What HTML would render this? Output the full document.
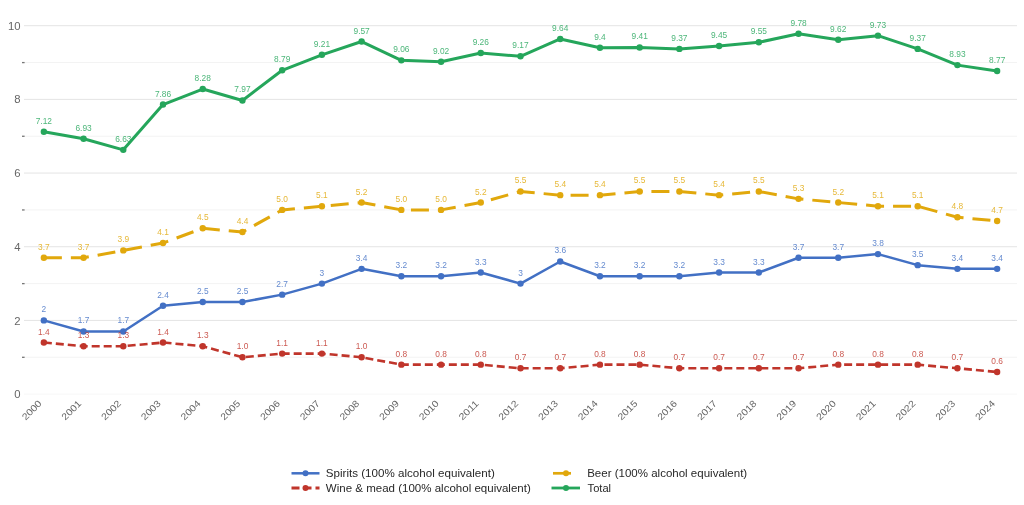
<!DOCTYPE html><html><head><meta charset="utf-8"><style>html,body{margin:0;padding:0;background:#fff;width:1024px;height:505px;overflow:hidden}</style></head><body><div style="will-change:transform"><svg width="1024" height="505" viewBox="0 0 1024 505" style="display:block">
<rect width="1024" height="505" fill="#fff"/>
<line x1="24.0" y1="394.10" x2="1017.0" y2="394.10" stroke="#f7f7f7" stroke-width="1"/>
<line x1="24.0" y1="357.26" x2="1017.0" y2="357.26" stroke="#f3f3f3" stroke-width="1"/>
<line x1="24.0" y1="320.42" x2="1017.0" y2="320.42" stroke="#e4e4e4" stroke-width="1"/>
<line x1="24.0" y1="283.58" x2="1017.0" y2="283.58" stroke="#f3f3f3" stroke-width="1"/>
<line x1="24.0" y1="246.74" x2="1017.0" y2="246.74" stroke="#e4e4e4" stroke-width="1"/>
<line x1="24.0" y1="209.90" x2="1017.0" y2="209.90" stroke="#f3f3f3" stroke-width="1"/>
<line x1="24.0" y1="173.06" x2="1017.0" y2="173.06" stroke="#e4e4e4" stroke-width="1"/>
<line x1="24.0" y1="136.22" x2="1017.0" y2="136.22" stroke="#f3f3f3" stroke-width="1"/>
<line x1="24.0" y1="99.38" x2="1017.0" y2="99.38" stroke="#e4e4e4" stroke-width="1"/>
<line x1="24.0" y1="62.54" x2="1017.0" y2="62.54" stroke="#f3f3f3" stroke-width="1"/>
<line x1="24.0" y1="25.70" x2="1017.0" y2="25.70" stroke="#e4e4e4" stroke-width="1"/>
<text x="20.5" y="398.20" text-anchor="end" font-family='"Liberation Sans", sans-serif' font-size="11.3" fill="#666">0</text>
<rect x="22" y="356.66" width="2.6" height="1.3" fill="#777"/>
<text x="20.5" y="324.52" text-anchor="end" font-family='"Liberation Sans", sans-serif' font-size="11.3" fill="#666">2</text>
<rect x="22" y="282.98" width="2.6" height="1.3" fill="#777"/>
<text x="20.5" y="250.84" text-anchor="end" font-family='"Liberation Sans", sans-serif' font-size="11.3" fill="#666">4</text>
<rect x="22" y="209.30" width="2.6" height="1.3" fill="#777"/>
<text x="20.5" y="177.16" text-anchor="end" font-family='"Liberation Sans", sans-serif' font-size="11.3" fill="#666">6</text>
<rect x="22" y="135.62" width="2.6" height="1.3" fill="#777"/>
<text x="20.5" y="103.48" text-anchor="end" font-family='"Liberation Sans", sans-serif' font-size="11.3" fill="#666">8</text>
<rect x="22" y="61.94" width="2.6" height="1.3" fill="#777"/>
<text x="20.5" y="29.80" text-anchor="end" font-family='"Liberation Sans", sans-serif' font-size="11.3" fill="#666">10</text>
<text transform="translate(42.26,404.10) rotate(-45)" text-anchor="end" font-family='"Liberation Sans", sans-serif' font-size="9.3" fill="#666" textLength="23.5" lengthAdjust="spacingAndGlyphs">2000</text>
<text transform="translate(81.98,404.10) rotate(-45)" text-anchor="end" font-family='"Liberation Sans", sans-serif' font-size="9.3" fill="#666" textLength="23.5" lengthAdjust="spacingAndGlyphs">2001</text>
<text transform="translate(121.70,404.10) rotate(-45)" text-anchor="end" font-family='"Liberation Sans", sans-serif' font-size="9.3" fill="#666" textLength="23.5" lengthAdjust="spacingAndGlyphs">2002</text>
<text transform="translate(161.42,404.10) rotate(-45)" text-anchor="end" font-family='"Liberation Sans", sans-serif' font-size="9.3" fill="#666" textLength="23.5" lengthAdjust="spacingAndGlyphs">2003</text>
<text transform="translate(201.14,404.10) rotate(-45)" text-anchor="end" font-family='"Liberation Sans", sans-serif' font-size="9.3" fill="#666" textLength="23.5" lengthAdjust="spacingAndGlyphs">2004</text>
<text transform="translate(240.86,404.10) rotate(-45)" text-anchor="end" font-family='"Liberation Sans", sans-serif' font-size="9.3" fill="#666" textLength="23.5" lengthAdjust="spacingAndGlyphs">2005</text>
<text transform="translate(280.58,404.10) rotate(-45)" text-anchor="end" font-family='"Liberation Sans", sans-serif' font-size="9.3" fill="#666" textLength="23.5" lengthAdjust="spacingAndGlyphs">2006</text>
<text transform="translate(320.30,404.10) rotate(-45)" text-anchor="end" font-family='"Liberation Sans", sans-serif' font-size="9.3" fill="#666" textLength="23.5" lengthAdjust="spacingAndGlyphs">2007</text>
<text transform="translate(360.02,404.10) rotate(-45)" text-anchor="end" font-family='"Liberation Sans", sans-serif' font-size="9.3" fill="#666" textLength="23.5" lengthAdjust="spacingAndGlyphs">2008</text>
<text transform="translate(399.74,404.10) rotate(-45)" text-anchor="end" font-family='"Liberation Sans", sans-serif' font-size="9.3" fill="#666" textLength="23.5" lengthAdjust="spacingAndGlyphs">2009</text>
<text transform="translate(439.46,404.10) rotate(-45)" text-anchor="end" font-family='"Liberation Sans", sans-serif' font-size="9.3" fill="#666" textLength="23.5" lengthAdjust="spacingAndGlyphs">2010</text>
<text transform="translate(479.18,404.10) rotate(-45)" text-anchor="end" font-family='"Liberation Sans", sans-serif' font-size="9.3" fill="#666" textLength="23.5" lengthAdjust="spacingAndGlyphs">2011</text>
<text transform="translate(518.90,404.10) rotate(-45)" text-anchor="end" font-family='"Liberation Sans", sans-serif' font-size="9.3" fill="#666" textLength="23.5" lengthAdjust="spacingAndGlyphs">2012</text>
<text transform="translate(558.62,404.10) rotate(-45)" text-anchor="end" font-family='"Liberation Sans", sans-serif' font-size="9.3" fill="#666" textLength="23.5" lengthAdjust="spacingAndGlyphs">2013</text>
<text transform="translate(598.34,404.10) rotate(-45)" text-anchor="end" font-family='"Liberation Sans", sans-serif' font-size="9.3" fill="#666" textLength="23.5" lengthAdjust="spacingAndGlyphs">2014</text>
<text transform="translate(638.06,404.10) rotate(-45)" text-anchor="end" font-family='"Liberation Sans", sans-serif' font-size="9.3" fill="#666" textLength="23.5" lengthAdjust="spacingAndGlyphs">2015</text>
<text transform="translate(677.78,404.10) rotate(-45)" text-anchor="end" font-family='"Liberation Sans", sans-serif' font-size="9.3" fill="#666" textLength="23.5" lengthAdjust="spacingAndGlyphs">2016</text>
<text transform="translate(717.50,404.10) rotate(-45)" text-anchor="end" font-family='"Liberation Sans", sans-serif' font-size="9.3" fill="#666" textLength="23.5" lengthAdjust="spacingAndGlyphs">2017</text>
<text transform="translate(757.22,404.10) rotate(-45)" text-anchor="end" font-family='"Liberation Sans", sans-serif' font-size="9.3" fill="#666" textLength="23.5" lengthAdjust="spacingAndGlyphs">2018</text>
<text transform="translate(796.94,404.10) rotate(-45)" text-anchor="end" font-family='"Liberation Sans", sans-serif' font-size="9.3" fill="#666" textLength="23.5" lengthAdjust="spacingAndGlyphs">2019</text>
<text transform="translate(836.66,404.10) rotate(-45)" text-anchor="end" font-family='"Liberation Sans", sans-serif' font-size="9.3" fill="#666" textLength="23.5" lengthAdjust="spacingAndGlyphs">2020</text>
<text transform="translate(876.38,404.10) rotate(-45)" text-anchor="end" font-family='"Liberation Sans", sans-serif' font-size="9.3" fill="#666" textLength="23.5" lengthAdjust="spacingAndGlyphs">2021</text>
<text transform="translate(916.10,404.10) rotate(-45)" text-anchor="end" font-family='"Liberation Sans", sans-serif' font-size="9.3" fill="#666" textLength="23.5" lengthAdjust="spacingAndGlyphs">2022</text>
<text transform="translate(955.82,404.10) rotate(-45)" text-anchor="end" font-family='"Liberation Sans", sans-serif' font-size="9.3" fill="#666" textLength="23.5" lengthAdjust="spacingAndGlyphs">2023</text>
<text transform="translate(995.54,404.10) rotate(-45)" text-anchor="end" font-family='"Liberation Sans", sans-serif' font-size="9.3" fill="#666" textLength="23.5" lengthAdjust="spacingAndGlyphs">2024</text>
<polyline points="43.86,342.52 83.58,346.21 123.30,346.21 163.02,342.52 202.74,346.21 242.46,357.26 282.18,353.58 321.90,353.58 361.62,357.26 401.34,364.63 441.06,364.63 480.78,364.63 520.50,368.31 560.22,368.31 599.94,364.63 639.66,364.63 679.38,368.31 719.10,368.31 758.82,368.31 798.54,368.31 838.26,364.63 877.98,364.63 917.70,364.63 957.42,368.31 997.14,372.00" fill="none" stroke="#c0352b" stroke-width="2.6" stroke-linejoin="round" stroke-dasharray="8 4"/>
<circle cx="43.86" cy="342.52" r="3.2" fill="#c0352b"/>
<circle cx="83.58" cy="346.21" r="3.2" fill="#c0352b"/>
<circle cx="123.30" cy="346.21" r="3.2" fill="#c0352b"/>
<circle cx="163.02" cy="342.52" r="3.2" fill="#c0352b"/>
<circle cx="202.74" cy="346.21" r="3.2" fill="#c0352b"/>
<circle cx="242.46" cy="357.26" r="3.2" fill="#c0352b"/>
<circle cx="282.18" cy="353.58" r="3.2" fill="#c0352b"/>
<circle cx="321.90" cy="353.58" r="3.2" fill="#c0352b"/>
<circle cx="361.62" cy="357.26" r="3.2" fill="#c0352b"/>
<circle cx="401.34" cy="364.63" r="3.2" fill="#c0352b"/>
<circle cx="441.06" cy="364.63" r="3.2" fill="#c0352b"/>
<circle cx="480.78" cy="364.63" r="3.2" fill="#c0352b"/>
<circle cx="520.50" cy="368.31" r="3.2" fill="#c0352b"/>
<circle cx="560.22" cy="368.31" r="3.2" fill="#c0352b"/>
<circle cx="599.94" cy="364.63" r="3.2" fill="#c0352b"/>
<circle cx="639.66" cy="364.63" r="3.2" fill="#c0352b"/>
<circle cx="679.38" cy="368.31" r="3.2" fill="#c0352b"/>
<circle cx="719.10" cy="368.31" r="3.2" fill="#c0352b"/>
<circle cx="758.82" cy="368.31" r="3.2" fill="#c0352b"/>
<circle cx="798.54" cy="368.31" r="3.2" fill="#c0352b"/>
<circle cx="838.26" cy="364.63" r="3.2" fill="#c0352b"/>
<circle cx="877.98" cy="364.63" r="3.2" fill="#c0352b"/>
<circle cx="917.70" cy="364.63" r="3.2" fill="#c0352b"/>
<circle cx="957.42" cy="368.31" r="3.2" fill="#c0352b"/>
<circle cx="997.14" cy="372.00" r="3.2" fill="#c0352b"/>
<polyline points="43.86,320.42 83.58,331.47 123.30,331.47 163.02,305.68 202.74,302.00 242.46,302.00 282.18,294.63 321.90,283.58 361.62,268.84 401.34,276.21 441.06,276.21 480.78,272.53 520.50,283.58 560.22,261.48 599.94,276.21 639.66,276.21 679.38,276.21 719.10,272.53 758.82,272.53 798.54,257.79 838.26,257.79 877.98,254.11 917.70,265.16 957.42,268.84 997.14,268.84" fill="none" stroke="#4270c4" stroke-width="2.5" stroke-linejoin="round"/>
<circle cx="43.86" cy="320.42" r="3.2" fill="#4270c4"/>
<circle cx="83.58" cy="331.47" r="3.2" fill="#4270c4"/>
<circle cx="123.30" cy="331.47" r="3.2" fill="#4270c4"/>
<circle cx="163.02" cy="305.68" r="3.2" fill="#4270c4"/>
<circle cx="202.74" cy="302.00" r="3.2" fill="#4270c4"/>
<circle cx="242.46" cy="302.00" r="3.2" fill="#4270c4"/>
<circle cx="282.18" cy="294.63" r="3.2" fill="#4270c4"/>
<circle cx="321.90" cy="283.58" r="3.2" fill="#4270c4"/>
<circle cx="361.62" cy="268.84" r="3.2" fill="#4270c4"/>
<circle cx="401.34" cy="276.21" r="3.2" fill="#4270c4"/>
<circle cx="441.06" cy="276.21" r="3.2" fill="#4270c4"/>
<circle cx="480.78" cy="272.53" r="3.2" fill="#4270c4"/>
<circle cx="520.50" cy="283.58" r="3.2" fill="#4270c4"/>
<circle cx="560.22" cy="261.48" r="3.2" fill="#4270c4"/>
<circle cx="599.94" cy="276.21" r="3.2" fill="#4270c4"/>
<circle cx="639.66" cy="276.21" r="3.2" fill="#4270c4"/>
<circle cx="679.38" cy="276.21" r="3.2" fill="#4270c4"/>
<circle cx="719.10" cy="272.53" r="3.2" fill="#4270c4"/>
<circle cx="758.82" cy="272.53" r="3.2" fill="#4270c4"/>
<circle cx="798.54" cy="257.79" r="3.2" fill="#4270c4"/>
<circle cx="838.26" cy="257.79" r="3.2" fill="#4270c4"/>
<circle cx="877.98" cy="254.11" r="3.2" fill="#4270c4"/>
<circle cx="917.70" cy="265.16" r="3.2" fill="#4270c4"/>
<circle cx="957.42" cy="268.84" r="3.2" fill="#4270c4"/>
<circle cx="997.14" cy="268.84" r="3.2" fill="#4270c4"/>
<polyline points="43.86,257.79 83.58,257.79 123.30,250.42 163.02,243.06 202.74,228.32 242.46,232.00 282.18,209.90 321.90,206.22 361.62,202.53 401.34,209.90 441.06,209.90 480.78,202.53 520.50,191.48 560.22,195.16 599.94,195.16 639.66,191.48 679.38,191.48 719.10,195.16 758.82,191.48 798.54,198.85 838.26,202.53 877.98,206.22 917.70,206.22 957.42,217.27 997.14,220.95" fill="none" stroke="#e1a80c" stroke-width="3" stroke-linejoin="round" stroke-dasharray="18 9"/>
<circle cx="43.86" cy="257.79" r="3.2" fill="#e1a80c"/>
<circle cx="83.58" cy="257.79" r="3.2" fill="#e1a80c"/>
<circle cx="123.30" cy="250.42" r="3.2" fill="#e1a80c"/>
<circle cx="163.02" cy="243.06" r="3.2" fill="#e1a80c"/>
<circle cx="202.74" cy="228.32" r="3.2" fill="#e1a80c"/>
<circle cx="242.46" cy="232.00" r="3.2" fill="#e1a80c"/>
<circle cx="282.18" cy="209.90" r="3.2" fill="#e1a80c"/>
<circle cx="321.90" cy="206.22" r="3.2" fill="#e1a80c"/>
<circle cx="361.62" cy="202.53" r="3.2" fill="#e1a80c"/>
<circle cx="401.34" cy="209.90" r="3.2" fill="#e1a80c"/>
<circle cx="441.06" cy="209.90" r="3.2" fill="#e1a80c"/>
<circle cx="480.78" cy="202.53" r="3.2" fill="#e1a80c"/>
<circle cx="520.50" cy="191.48" r="3.2" fill="#e1a80c"/>
<circle cx="560.22" cy="195.16" r="3.2" fill="#e1a80c"/>
<circle cx="599.94" cy="195.16" r="3.2" fill="#e1a80c"/>
<circle cx="639.66" cy="191.48" r="3.2" fill="#e1a80c"/>
<circle cx="679.38" cy="191.48" r="3.2" fill="#e1a80c"/>
<circle cx="719.10" cy="195.16" r="3.2" fill="#e1a80c"/>
<circle cx="758.82" cy="191.48" r="3.2" fill="#e1a80c"/>
<circle cx="798.54" cy="198.85" r="3.2" fill="#e1a80c"/>
<circle cx="838.26" cy="202.53" r="3.2" fill="#e1a80c"/>
<circle cx="877.98" cy="206.22" r="3.2" fill="#e1a80c"/>
<circle cx="917.70" cy="206.22" r="3.2" fill="#e1a80c"/>
<circle cx="957.42" cy="217.27" r="3.2" fill="#e1a80c"/>
<circle cx="997.14" cy="220.95" r="3.2" fill="#e1a80c"/>
<polyline points="43.86,131.80 83.58,138.80 123.30,149.85 163.02,104.54 202.74,89.06 242.46,100.49 282.18,70.28 321.90,54.80 361.62,41.54 401.34,60.33 441.06,61.80 480.78,52.96 520.50,56.28 560.22,38.96 599.94,47.80 639.66,47.44 679.38,48.91 719.10,45.96 758.82,42.28 798.54,33.80 838.26,39.70 877.98,35.65 917.70,48.91 957.42,65.12 997.14,71.01" fill="none" stroke="#25a65b" stroke-width="3" stroke-linejoin="round"/>
<circle cx="43.86" cy="131.80" r="3.2" fill="#25a65b"/>
<circle cx="83.58" cy="138.80" r="3.2" fill="#25a65b"/>
<circle cx="123.30" cy="149.85" r="3.2" fill="#25a65b"/>
<circle cx="163.02" cy="104.54" r="3.2" fill="#25a65b"/>
<circle cx="202.74" cy="89.06" r="3.2" fill="#25a65b"/>
<circle cx="242.46" cy="100.49" r="3.2" fill="#25a65b"/>
<circle cx="282.18" cy="70.28" r="3.2" fill="#25a65b"/>
<circle cx="321.90" cy="54.80" r="3.2" fill="#25a65b"/>
<circle cx="361.62" cy="41.54" r="3.2" fill="#25a65b"/>
<circle cx="401.34" cy="60.33" r="3.2" fill="#25a65b"/>
<circle cx="441.06" cy="61.80" r="3.2" fill="#25a65b"/>
<circle cx="480.78" cy="52.96" r="3.2" fill="#25a65b"/>
<circle cx="520.50" cy="56.28" r="3.2" fill="#25a65b"/>
<circle cx="560.22" cy="38.96" r="3.2" fill="#25a65b"/>
<circle cx="599.94" cy="47.80" r="3.2" fill="#25a65b"/>
<circle cx="639.66" cy="47.44" r="3.2" fill="#25a65b"/>
<circle cx="679.38" cy="48.91" r="3.2" fill="#25a65b"/>
<circle cx="719.10" cy="45.96" r="3.2" fill="#25a65b"/>
<circle cx="758.82" cy="42.28" r="3.2" fill="#25a65b"/>
<circle cx="798.54" cy="33.80" r="3.2" fill="#25a65b"/>
<circle cx="838.26" cy="39.70" r="3.2" fill="#25a65b"/>
<circle cx="877.98" cy="35.65" r="3.2" fill="#25a65b"/>
<circle cx="917.70" cy="48.91" r="3.2" fill="#25a65b"/>
<circle cx="957.42" cy="65.12" r="3.2" fill="#25a65b"/>
<circle cx="997.14" cy="71.01" r="3.2" fill="#25a65b"/>
<text transform="translate(43.86,334.52) scale(0.93,1)" text-anchor="middle" font-family='"Liberation Sans", sans-serif' font-size="9" fill="#c0352b" fill-opacity="0.82">1.4</text>
<text transform="translate(83.58,338.21) scale(0.93,1)" text-anchor="middle" font-family='"Liberation Sans", sans-serif' font-size="9" fill="#c0352b" fill-opacity="0.82">1.3</text>
<text transform="translate(123.30,338.21) scale(0.93,1)" text-anchor="middle" font-family='"Liberation Sans", sans-serif' font-size="9" fill="#c0352b" fill-opacity="0.82">1.3</text>
<text transform="translate(163.02,334.52) scale(0.93,1)" text-anchor="middle" font-family='"Liberation Sans", sans-serif' font-size="9" fill="#c0352b" fill-opacity="0.82">1.4</text>
<text transform="translate(202.74,338.21) scale(0.93,1)" text-anchor="middle" font-family='"Liberation Sans", sans-serif' font-size="9" fill="#c0352b" fill-opacity="0.82">1.3</text>
<text transform="translate(242.46,349.26) scale(0.93,1)" text-anchor="middle" font-family='"Liberation Sans", sans-serif' font-size="9" fill="#c0352b" fill-opacity="0.82">1.0</text>
<text transform="translate(282.18,345.58) scale(0.93,1)" text-anchor="middle" font-family='"Liberation Sans", sans-serif' font-size="9" fill="#c0352b" fill-opacity="0.82">1.1</text>
<text transform="translate(321.90,345.58) scale(0.93,1)" text-anchor="middle" font-family='"Liberation Sans", sans-serif' font-size="9" fill="#c0352b" fill-opacity="0.82">1.1</text>
<text transform="translate(361.62,349.26) scale(0.93,1)" text-anchor="middle" font-family='"Liberation Sans", sans-serif' font-size="9" fill="#c0352b" fill-opacity="0.82">1.0</text>
<text transform="translate(401.34,356.63) scale(0.93,1)" text-anchor="middle" font-family='"Liberation Sans", sans-serif' font-size="9" fill="#c0352b" fill-opacity="0.82">0.8</text>
<text transform="translate(441.06,356.63) scale(0.93,1)" text-anchor="middle" font-family='"Liberation Sans", sans-serif' font-size="9" fill="#c0352b" fill-opacity="0.82">0.8</text>
<text transform="translate(480.78,356.63) scale(0.93,1)" text-anchor="middle" font-family='"Liberation Sans", sans-serif' font-size="9" fill="#c0352b" fill-opacity="0.82">0.8</text>
<text transform="translate(520.50,360.31) scale(0.93,1)" text-anchor="middle" font-family='"Liberation Sans", sans-serif' font-size="9" fill="#c0352b" fill-opacity="0.82">0.7</text>
<text transform="translate(560.22,360.31) scale(0.93,1)" text-anchor="middle" font-family='"Liberation Sans", sans-serif' font-size="9" fill="#c0352b" fill-opacity="0.82">0.7</text>
<text transform="translate(599.94,356.63) scale(0.93,1)" text-anchor="middle" font-family='"Liberation Sans", sans-serif' font-size="9" fill="#c0352b" fill-opacity="0.82">0.8</text>
<text transform="translate(639.66,356.63) scale(0.93,1)" text-anchor="middle" font-family='"Liberation Sans", sans-serif' font-size="9" fill="#c0352b" fill-opacity="0.82">0.8</text>
<text transform="translate(679.38,360.31) scale(0.93,1)" text-anchor="middle" font-family='"Liberation Sans", sans-serif' font-size="9" fill="#c0352b" fill-opacity="0.82">0.7</text>
<text transform="translate(719.10,360.31) scale(0.93,1)" text-anchor="middle" font-family='"Liberation Sans", sans-serif' font-size="9" fill="#c0352b" fill-opacity="0.82">0.7</text>
<text transform="translate(758.82,360.31) scale(0.93,1)" text-anchor="middle" font-family='"Liberation Sans", sans-serif' font-size="9" fill="#c0352b" fill-opacity="0.82">0.7</text>
<text transform="translate(798.54,360.31) scale(0.93,1)" text-anchor="middle" font-family='"Liberation Sans", sans-serif' font-size="9" fill="#c0352b" fill-opacity="0.82">0.7</text>
<text transform="translate(838.26,356.63) scale(0.93,1)" text-anchor="middle" font-family='"Liberation Sans", sans-serif' font-size="9" fill="#c0352b" fill-opacity="0.82">0.8</text>
<text transform="translate(877.98,356.63) scale(0.93,1)" text-anchor="middle" font-family='"Liberation Sans", sans-serif' font-size="9" fill="#c0352b" fill-opacity="0.82">0.8</text>
<text transform="translate(917.70,356.63) scale(0.93,1)" text-anchor="middle" font-family='"Liberation Sans", sans-serif' font-size="9" fill="#c0352b" fill-opacity="0.82">0.8</text>
<text transform="translate(957.42,360.31) scale(0.93,1)" text-anchor="middle" font-family='"Liberation Sans", sans-serif' font-size="9" fill="#c0352b" fill-opacity="0.82">0.7</text>
<text transform="translate(997.14,364.00) scale(0.93,1)" text-anchor="middle" font-family='"Liberation Sans", sans-serif' font-size="9" fill="#c0352b" fill-opacity="0.82">0.6</text>
<text transform="translate(43.86,312.42) scale(0.93,1)" text-anchor="middle" font-family='"Liberation Sans", sans-serif' font-size="9" fill="#4270c4" fill-opacity="0.82">2</text>
<text transform="translate(83.58,323.47) scale(0.93,1)" text-anchor="middle" font-family='"Liberation Sans", sans-serif' font-size="9" fill="#4270c4" fill-opacity="0.82">1.7</text>
<text transform="translate(123.30,323.47) scale(0.93,1)" text-anchor="middle" font-family='"Liberation Sans", sans-serif' font-size="9" fill="#4270c4" fill-opacity="0.82">1.7</text>
<text transform="translate(163.02,297.68) scale(0.93,1)" text-anchor="middle" font-family='"Liberation Sans", sans-serif' font-size="9" fill="#4270c4" fill-opacity="0.82">2.4</text>
<text transform="translate(202.74,294.00) scale(0.93,1)" text-anchor="middle" font-family='"Liberation Sans", sans-serif' font-size="9" fill="#4270c4" fill-opacity="0.82">2.5</text>
<text transform="translate(242.46,294.00) scale(0.93,1)" text-anchor="middle" font-family='"Liberation Sans", sans-serif' font-size="9" fill="#4270c4" fill-opacity="0.82">2.5</text>
<text transform="translate(282.18,286.63) scale(0.93,1)" text-anchor="middle" font-family='"Liberation Sans", sans-serif' font-size="9" fill="#4270c4" fill-opacity="0.82">2.7</text>
<text transform="translate(321.90,275.58) scale(0.93,1)" text-anchor="middle" font-family='"Liberation Sans", sans-serif' font-size="9" fill="#4270c4" fill-opacity="0.82">3</text>
<text transform="translate(361.62,260.84) scale(0.93,1)" text-anchor="middle" font-family='"Liberation Sans", sans-serif' font-size="9" fill="#4270c4" fill-opacity="0.82">3.4</text>
<text transform="translate(401.34,268.21) scale(0.93,1)" text-anchor="middle" font-family='"Liberation Sans", sans-serif' font-size="9" fill="#4270c4" fill-opacity="0.82">3.2</text>
<text transform="translate(441.06,268.21) scale(0.93,1)" text-anchor="middle" font-family='"Liberation Sans", sans-serif' font-size="9" fill="#4270c4" fill-opacity="0.82">3.2</text>
<text transform="translate(480.78,264.53) scale(0.93,1)" text-anchor="middle" font-family='"Liberation Sans", sans-serif' font-size="9" fill="#4270c4" fill-opacity="0.82">3.3</text>
<text transform="translate(520.50,275.58) scale(0.93,1)" text-anchor="middle" font-family='"Liberation Sans", sans-serif' font-size="9" fill="#4270c4" fill-opacity="0.82">3</text>
<text transform="translate(560.22,253.48) scale(0.93,1)" text-anchor="middle" font-family='"Liberation Sans", sans-serif' font-size="9" fill="#4270c4" fill-opacity="0.82">3.6</text>
<text transform="translate(599.94,268.21) scale(0.93,1)" text-anchor="middle" font-family='"Liberation Sans", sans-serif' font-size="9" fill="#4270c4" fill-opacity="0.82">3.2</text>
<text transform="translate(639.66,268.21) scale(0.93,1)" text-anchor="middle" font-family='"Liberation Sans", sans-serif' font-size="9" fill="#4270c4" fill-opacity="0.82">3.2</text>
<text transform="translate(679.38,268.21) scale(0.93,1)" text-anchor="middle" font-family='"Liberation Sans", sans-serif' font-size="9" fill="#4270c4" fill-opacity="0.82">3.2</text>
<text transform="translate(719.10,264.53) scale(0.93,1)" text-anchor="middle" font-family='"Liberation Sans", sans-serif' font-size="9" fill="#4270c4" fill-opacity="0.82">3.3</text>
<text transform="translate(758.82,264.53) scale(0.93,1)" text-anchor="middle" font-family='"Liberation Sans", sans-serif' font-size="9" fill="#4270c4" fill-opacity="0.82">3.3</text>
<text transform="translate(798.54,249.79) scale(0.93,1)" text-anchor="middle" font-family='"Liberation Sans", sans-serif' font-size="9" fill="#4270c4" fill-opacity="0.82">3.7</text>
<text transform="translate(838.26,249.79) scale(0.93,1)" text-anchor="middle" font-family='"Liberation Sans", sans-serif' font-size="9" fill="#4270c4" fill-opacity="0.82">3.7</text>
<text transform="translate(877.98,246.11) scale(0.93,1)" text-anchor="middle" font-family='"Liberation Sans", sans-serif' font-size="9" fill="#4270c4" fill-opacity="0.82">3.8</text>
<text transform="translate(917.70,257.16) scale(0.93,1)" text-anchor="middle" font-family='"Liberation Sans", sans-serif' font-size="9" fill="#4270c4" fill-opacity="0.82">3.5</text>
<text transform="translate(957.42,260.84) scale(0.93,1)" text-anchor="middle" font-family='"Liberation Sans", sans-serif' font-size="9" fill="#4270c4" fill-opacity="0.82">3.4</text>
<text transform="translate(997.14,260.84) scale(0.93,1)" text-anchor="middle" font-family='"Liberation Sans", sans-serif' font-size="9" fill="#4270c4" fill-opacity="0.82">3.4</text>
<text transform="translate(43.86,249.79) scale(0.93,1)" text-anchor="middle" font-family='"Liberation Sans", sans-serif' font-size="9" fill="#e1a80c" fill-opacity="0.82">3.7</text>
<text transform="translate(83.58,249.79) scale(0.93,1)" text-anchor="middle" font-family='"Liberation Sans", sans-serif' font-size="9" fill="#e1a80c" fill-opacity="0.82">3.7</text>
<text transform="translate(123.30,242.42) scale(0.93,1)" text-anchor="middle" font-family='"Liberation Sans", sans-serif' font-size="9" fill="#e1a80c" fill-opacity="0.82">3.9</text>
<text transform="translate(163.02,235.06) scale(0.93,1)" text-anchor="middle" font-family='"Liberation Sans", sans-serif' font-size="9" fill="#e1a80c" fill-opacity="0.82">4.1</text>
<text transform="translate(202.74,220.32) scale(0.93,1)" text-anchor="middle" font-family='"Liberation Sans", sans-serif' font-size="9" fill="#e1a80c" fill-opacity="0.82">4.5</text>
<text transform="translate(242.46,224.00) scale(0.93,1)" text-anchor="middle" font-family='"Liberation Sans", sans-serif' font-size="9" fill="#e1a80c" fill-opacity="0.82">4.4</text>
<text transform="translate(282.18,201.90) scale(0.93,1)" text-anchor="middle" font-family='"Liberation Sans", sans-serif' font-size="9" fill="#e1a80c" fill-opacity="0.82">5.0</text>
<text transform="translate(321.90,198.22) scale(0.93,1)" text-anchor="middle" font-family='"Liberation Sans", sans-serif' font-size="9" fill="#e1a80c" fill-opacity="0.82">5.1</text>
<text transform="translate(361.62,194.53) scale(0.93,1)" text-anchor="middle" font-family='"Liberation Sans", sans-serif' font-size="9" fill="#e1a80c" fill-opacity="0.82">5.2</text>
<text transform="translate(401.34,201.90) scale(0.93,1)" text-anchor="middle" font-family='"Liberation Sans", sans-serif' font-size="9" fill="#e1a80c" fill-opacity="0.82">5.0</text>
<text transform="translate(441.06,201.90) scale(0.93,1)" text-anchor="middle" font-family='"Liberation Sans", sans-serif' font-size="9" fill="#e1a80c" fill-opacity="0.82">5.0</text>
<text transform="translate(480.78,194.53) scale(0.93,1)" text-anchor="middle" font-family='"Liberation Sans", sans-serif' font-size="9" fill="#e1a80c" fill-opacity="0.82">5.2</text>
<text transform="translate(520.50,183.48) scale(0.93,1)" text-anchor="middle" font-family='"Liberation Sans", sans-serif' font-size="9" fill="#e1a80c" fill-opacity="0.82">5.5</text>
<text transform="translate(560.22,187.16) scale(0.93,1)" text-anchor="middle" font-family='"Liberation Sans", sans-serif' font-size="9" fill="#e1a80c" fill-opacity="0.82">5.4</text>
<text transform="translate(599.94,187.16) scale(0.93,1)" text-anchor="middle" font-family='"Liberation Sans", sans-serif' font-size="9" fill="#e1a80c" fill-opacity="0.82">5.4</text>
<text transform="translate(639.66,183.48) scale(0.93,1)" text-anchor="middle" font-family='"Liberation Sans", sans-serif' font-size="9" fill="#e1a80c" fill-opacity="0.82">5.5</text>
<text transform="translate(679.38,183.48) scale(0.93,1)" text-anchor="middle" font-family='"Liberation Sans", sans-serif' font-size="9" fill="#e1a80c" fill-opacity="0.82">5.5</text>
<text transform="translate(719.10,187.16) scale(0.93,1)" text-anchor="middle" font-family='"Liberation Sans", sans-serif' font-size="9" fill="#e1a80c" fill-opacity="0.82">5.4</text>
<text transform="translate(758.82,183.48) scale(0.93,1)" text-anchor="middle" font-family='"Liberation Sans", sans-serif' font-size="9" fill="#e1a80c" fill-opacity="0.82">5.5</text>
<text transform="translate(798.54,190.85) scale(0.93,1)" text-anchor="middle" font-family='"Liberation Sans", sans-serif' font-size="9" fill="#e1a80c" fill-opacity="0.82">5.3</text>
<text transform="translate(838.26,194.53) scale(0.93,1)" text-anchor="middle" font-family='"Liberation Sans", sans-serif' font-size="9" fill="#e1a80c" fill-opacity="0.82">5.2</text>
<text transform="translate(877.98,198.22) scale(0.93,1)" text-anchor="middle" font-family='"Liberation Sans", sans-serif' font-size="9" fill="#e1a80c" fill-opacity="0.82">5.1</text>
<text transform="translate(917.70,198.22) scale(0.93,1)" text-anchor="middle" font-family='"Liberation Sans", sans-serif' font-size="9" fill="#e1a80c" fill-opacity="0.82">5.1</text>
<text transform="translate(957.42,209.27) scale(0.93,1)" text-anchor="middle" font-family='"Liberation Sans", sans-serif' font-size="9" fill="#e1a80c" fill-opacity="0.82">4.8</text>
<text transform="translate(997.14,212.95) scale(0.93,1)" text-anchor="middle" font-family='"Liberation Sans", sans-serif' font-size="9" fill="#e1a80c" fill-opacity="0.82">4.7</text>
<text transform="translate(43.86,123.80) scale(0.93,1)" text-anchor="middle" font-family='"Liberation Sans", sans-serif' font-size="9" fill="#25a65b" fill-opacity="0.82">7.12</text>
<text transform="translate(83.58,130.80) scale(0.93,1)" text-anchor="middle" font-family='"Liberation Sans", sans-serif' font-size="9" fill="#25a65b" fill-opacity="0.82">6.93</text>
<text transform="translate(123.30,141.85) scale(0.93,1)" text-anchor="middle" font-family='"Liberation Sans", sans-serif' font-size="9" fill="#25a65b" fill-opacity="0.82">6.63</text>
<text transform="translate(163.02,96.54) scale(0.93,1)" text-anchor="middle" font-family='"Liberation Sans", sans-serif' font-size="9" fill="#25a65b" fill-opacity="0.82">7.86</text>
<text transform="translate(202.74,81.06) scale(0.93,1)" text-anchor="middle" font-family='"Liberation Sans", sans-serif' font-size="9" fill="#25a65b" fill-opacity="0.82">8.28</text>
<text transform="translate(242.46,92.49) scale(0.93,1)" text-anchor="middle" font-family='"Liberation Sans", sans-serif' font-size="9" fill="#25a65b" fill-opacity="0.82">7.97</text>
<text transform="translate(282.18,62.28) scale(0.93,1)" text-anchor="middle" font-family='"Liberation Sans", sans-serif' font-size="9" fill="#25a65b" fill-opacity="0.82">8.79</text>
<text transform="translate(321.90,46.80) scale(0.93,1)" text-anchor="middle" font-family='"Liberation Sans", sans-serif' font-size="9" fill="#25a65b" fill-opacity="0.82">9.21</text>
<text transform="translate(361.62,33.54) scale(0.93,1)" text-anchor="middle" font-family='"Liberation Sans", sans-serif' font-size="9" fill="#25a65b" fill-opacity="0.82">9.57</text>
<text transform="translate(401.34,52.33) scale(0.93,1)" text-anchor="middle" font-family='"Liberation Sans", sans-serif' font-size="9" fill="#25a65b" fill-opacity="0.82">9.06</text>
<text transform="translate(441.06,53.80) scale(0.93,1)" text-anchor="middle" font-family='"Liberation Sans", sans-serif' font-size="9" fill="#25a65b" fill-opacity="0.82">9.02</text>
<text transform="translate(480.78,44.96) scale(0.93,1)" text-anchor="middle" font-family='"Liberation Sans", sans-serif' font-size="9" fill="#25a65b" fill-opacity="0.82">9.26</text>
<text transform="translate(520.50,48.28) scale(0.93,1)" text-anchor="middle" font-family='"Liberation Sans", sans-serif' font-size="9" fill="#25a65b" fill-opacity="0.82">9.17</text>
<text transform="translate(560.22,30.96) scale(0.93,1)" text-anchor="middle" font-family='"Liberation Sans", sans-serif' font-size="9" fill="#25a65b" fill-opacity="0.82">9.64</text>
<text transform="translate(599.94,39.80) scale(0.93,1)" text-anchor="middle" font-family='"Liberation Sans", sans-serif' font-size="9" fill="#25a65b" fill-opacity="0.82">9.4</text>
<text transform="translate(639.66,39.44) scale(0.93,1)" text-anchor="middle" font-family='"Liberation Sans", sans-serif' font-size="9" fill="#25a65b" fill-opacity="0.82">9.41</text>
<text transform="translate(679.38,40.91) scale(0.93,1)" text-anchor="middle" font-family='"Liberation Sans", sans-serif' font-size="9" fill="#25a65b" fill-opacity="0.82">9.37</text>
<text transform="translate(719.10,37.96) scale(0.93,1)" text-anchor="middle" font-family='"Liberation Sans", sans-serif' font-size="9" fill="#25a65b" fill-opacity="0.82">9.45</text>
<text transform="translate(758.82,34.28) scale(0.93,1)" text-anchor="middle" font-family='"Liberation Sans", sans-serif' font-size="9" fill="#25a65b" fill-opacity="0.82">9.55</text>
<text transform="translate(798.54,25.80) scale(0.93,1)" text-anchor="middle" font-family='"Liberation Sans", sans-serif' font-size="9" fill="#25a65b" fill-opacity="0.82">9.78</text>
<text transform="translate(838.26,31.70) scale(0.93,1)" text-anchor="middle" font-family='"Liberation Sans", sans-serif' font-size="9" fill="#25a65b" fill-opacity="0.82">9.62</text>
<text transform="translate(877.98,27.65) scale(0.93,1)" text-anchor="middle" font-family='"Liberation Sans", sans-serif' font-size="9" fill="#25a65b" fill-opacity="0.82">9.73</text>
<text transform="translate(917.70,40.91) scale(0.93,1)" text-anchor="middle" font-family='"Liberation Sans", sans-serif' font-size="9" fill="#25a65b" fill-opacity="0.82">9.37</text>
<text transform="translate(957.42,57.12) scale(0.93,1)" text-anchor="middle" font-family='"Liberation Sans", sans-serif' font-size="9" fill="#25a65b" fill-opacity="0.82">8.93</text>
<text transform="translate(997.14,63.01) scale(0.93,1)" text-anchor="middle" font-family='"Liberation Sans", sans-serif' font-size="9" fill="#25a65b" fill-opacity="0.82">8.77</text>
<line x1="291.5" y1="473.3" x2="319.5" y2="473.3" stroke="#4270c4" stroke-width="2.5"/>
<circle cx="305.5" cy="473.3" r="3" fill="#4270c4"/>
<text x="325.8" y="477.3" font-family='"Liberation Sans", sans-serif' font-size="11" fill="#282828" textLength="169" lengthAdjust="spacingAndGlyphs">Spirits (100% alcohol equivalent)</text>
<line x1="291.5" y1="488.0" x2="319.5" y2="488.0" stroke="#c0352b" stroke-width="2.8" stroke-dasharray="8 4"/>
<circle cx="305.5" cy="488.0" r="3" fill="#c0352b"/>
<text x="325.8" y="492.0" font-family='"Liberation Sans", sans-serif' font-size="11" fill="#282828" textLength="205" lengthAdjust="spacingAndGlyphs">Wine &amp; mead (100% alcohol equivalent)</text>
<line x1="553" y1="473.3" x2="580" y2="473.3" stroke="#e1a80c" stroke-width="2.7" stroke-dasharray="18 9"/>
<circle cx="566" cy="473.3" r="3" fill="#e1a80c"/>
<text x="587.2" y="477.3" font-family='"Liberation Sans", sans-serif' font-size="11" fill="#282828" textLength="160" lengthAdjust="spacingAndGlyphs">Beer (100% alcohol equivalent)</text>
<line x1="551.5" y1="488.0" x2="580" y2="488.0" stroke="#25a65b" stroke-width="2.8"/>
<circle cx="566" cy="488.0" r="3" fill="#25a65b"/>
<text x="587.6" y="492.0" font-family='"Liberation Sans", sans-serif' font-size="11" fill="#282828" textLength="23.5" lengthAdjust="spacingAndGlyphs">Total</text>
</svg></div></body></html>
